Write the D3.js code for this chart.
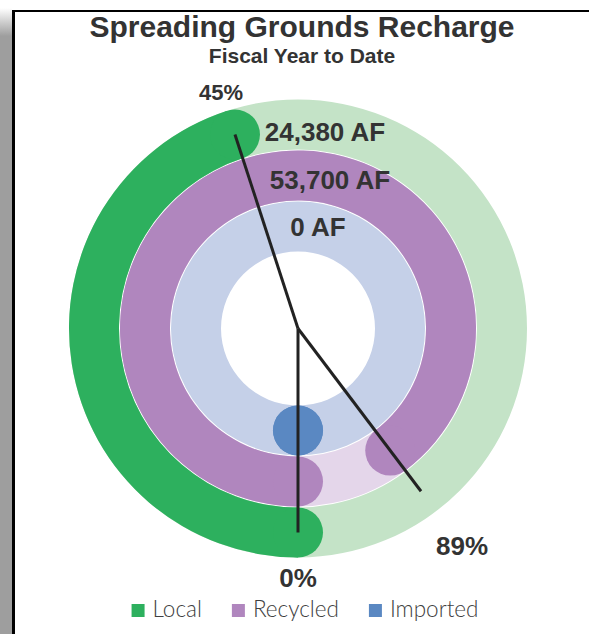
<!DOCTYPE html>
<html>
<head>
<meta charset="utf-8">
<script src="https://cdn.jsdelivr.net/npm/d3@7"></script>
<style>
  body { margin: 0; background: #fff; }
  svg { display: block; }
</style>
</head>
<body>
<div id="chart"></div>
<script>
// data
var categories = ["Local", "Recycled", "Imported"];
var shares = [0.45, 0.897, 0];            // share of the year-to-date goal
var acreFeet = [24380, 53700, 0];
var pctLabels = ["45%", "89%", "0%"];

// colours: full colour for progress, pale for the track
var colors = ["#2db05e", "#b086be", "#5a88c2"];
var trackColors = ["#c4e3c7", "#e4d6ea", "#c5d0e8"];

var width = 589, height = 634;
var cx = 298, cy = 328.5;
var band = 50;

var svg = d3.select("#chart")
  .append("svg")
  .attr("width", width)
  .attr("height", height);

// grey drop shadow on the left and the black frame
var defs = svg.append("defs");
var grad = defs.append("linearGradient")
  .attr("id", "shade")
  .attr("gradientUnits", "userSpaceOnUse")
  .attr("x1", 0).attr("y1", 8).attr("x2", 0).attr("y2", 36);
grad.append("stop").attr("offset", 0).attr("stop-color", "#ffffff");
grad.append("stop").attr("offset", 1).attr("stop-color", "#9e9e9e");

svg.append("rect")
  .attr("x", 0).attr("y", 0)
  .attr("width", 12).attr("height", height)
  .style("fill", "url(#shade)");

svg.append("line")
  .attr("x1", 12).attr("x2", width).attr("y1", 11).attr("y2", 11)
  .style("stroke", "#000").style("stroke-width", 2);
svg.append("line")
  .attr("x1", 13.5).attr("x2", 13.5).attr("y1", 10).attr("y2", height)
  .style("stroke", "#000").style("stroke-width", 3);

// titles
svg.append("text")
  .attr("x", 302).attr("y", 37)
  .attr("text-anchor", "middle")
  .style("font-family", "'Liberation Sans', Arial, sans-serif")
  .style("font-weight", "bold")
  .style("font-size", "30px")
  .style("fill", "#333")
  .text("Spreading Grounds Recharge");

svg.append("text")
  .attr("x", 302).attr("y", 63)
  .attr("text-anchor", "middle")
  .style("font-family", "'Liberation Sans', Arial, sans-serif")
  .style("font-weight", "bold")
  .style("font-size", "21px")
  .style("fill", "#333")
  .text("Fiscal Year to Date");

// scales: angle starts at 6 o'clock and runs clockwise
var angle = d3.scaleLinear().domain([0, 1]).range([Math.PI, 3 * Math.PI]);
var radius = d3.scalePoint().domain(categories).range([204, 102]);

var rows = categories.map(function(c, i) {
  return {name: c, share: shares[i], af: acreFeet[i], pct: pctLabels[i], i: i};
});

var g = svg.append("g").attr("transform", "translate(" + cx + "," + cy + ")");

function polar(a, r) {
  return [r * Math.sin(a), -r * Math.cos(a)];
}

// tracks
g.selectAll(".track")
  .data(rows)
  .enter()
  .append("path")
  .attr("class", "track")
  .attr("d", function(d) {
    var r = radius(d.name);
    return d3.arc()
      .innerRadius(r - band / 2)
      .outerRadius(r + band / 2)
      .startAngle(0)
      .endAngle(2 * Math.PI)();
  })
  .style("fill", function(d) { return trackColors[d.i]; });

// progress bands
g.selectAll(".bar")
  .data(rows)
  .enter()
  .append("path")
  .attr("class", "bar")
  .attr("d", function(d) {
    var r = radius(d.name);
    return d3.arc()
      .innerRadius(r - band / 2)
      .outerRadius(r + band / 2)
      .startAngle(angle(0))
      .endAngle(angle(d.share))();
  })
  .style("fill", function(d) { return colors[d.i]; });

// round ends
rows.forEach(function(d) {
  var r = radius(d.name);
  [angle(0), angle(d.share)].forEach(function(a) {
    var p = polar(a, r);
    g.append("circle")
      .attr("cx", p[0]).attr("cy", p[1])
      .attr("r", band / 2)
      .style("fill", colors[d.i]);
  });
});

// pointer lines from the centre to each band's end
var needle = radius(categories[0]);
g.selectAll(".needle")
  .data(rows)
  .enter()
  .append("line")
  .attr("class", "needle")
  .attr("x1", 0).attr("y1", 0)
  .attr("x2", function(d) { return polar(angle(d.share), needle)[0]; })
  .attr("y2", function(d) { return polar(angle(d.share), needle)[1]; })
  .style("stroke", "#222")
  .style("stroke-width", 3);

// percentage labels
var pctR = [249, 272, 249];
var pctSize = [22, 26, 26];
g.selectAll(".pct")
  .data(rows)
  .enter()
  .append("text")
  .attr("class", "pct")
  .attr("x", function(d) { return polar(angle(d.share), pctR[d.i])[0]; })
  .attr("y", function(d) { return polar(angle(d.share), pctR[d.i])[1]; })
  .attr("dy", "0.36em")
  .attr("text-anchor", "middle")
  .style("font-family", "'Liberation Sans', Arial, sans-serif")
  .style("font-weight", "bold")
  .style("font-size", function(d) { return pctSize[d.i] + "px"; })
  .style("fill", "#333")
  .text(function(d) { return d.pct; });

// acre-feet labels near the top of each band
var afDx = [27, 32, 20];
var afDy = [7, 4, 0];
var fmt = d3.format(",");
g.selectAll(".af")
  .data(rows)
  .enter()
  .append("text")
  .attr("class", "af")
  .attr("x", function(d) { return afDx[d.i]; })
  .attr("y", function(d) { return -radius(d.name) + afDy[d.i]; })
  .attr("dy", "0.36em")
  .attr("text-anchor", "middle")
  .style("font-family", "'Liberation Sans', Arial, sans-serif")
  .style("font-weight", "bold")
  .style("font-size", "26px")
  .style("fill", "#333")
  .text(function(d) { return fmt(d.af) + " AF"; });

// legend
var legend = svg.append("g");
var x = 0;
rows.forEach(function(d) {
  var item = legend.append("g").attr("transform", "translate(" + x + ",0)");
  item.append("rect")
    .attr("x", 0).attr("y", -13)
    .attr("width", 13).attr("height", 13)
    .style("fill", colors[d.i]);
  var t = item.append("text")
    .attr("x", 21).attr("y", 0)
    .style("font-family", "Lato, sans-serif")
    .style("font-weight", 300)
    .style("font-size", "22.5px")
    .style("fill", "#404040")
    .text(d.name);
  x += 21 + t.node().getComputedTextLength() + 30;
});
var legendW = x - 30;
legend.attr("transform", "translate(" + (305 - legendW / 2) + ",617)");
</script>
</body>
</html>
